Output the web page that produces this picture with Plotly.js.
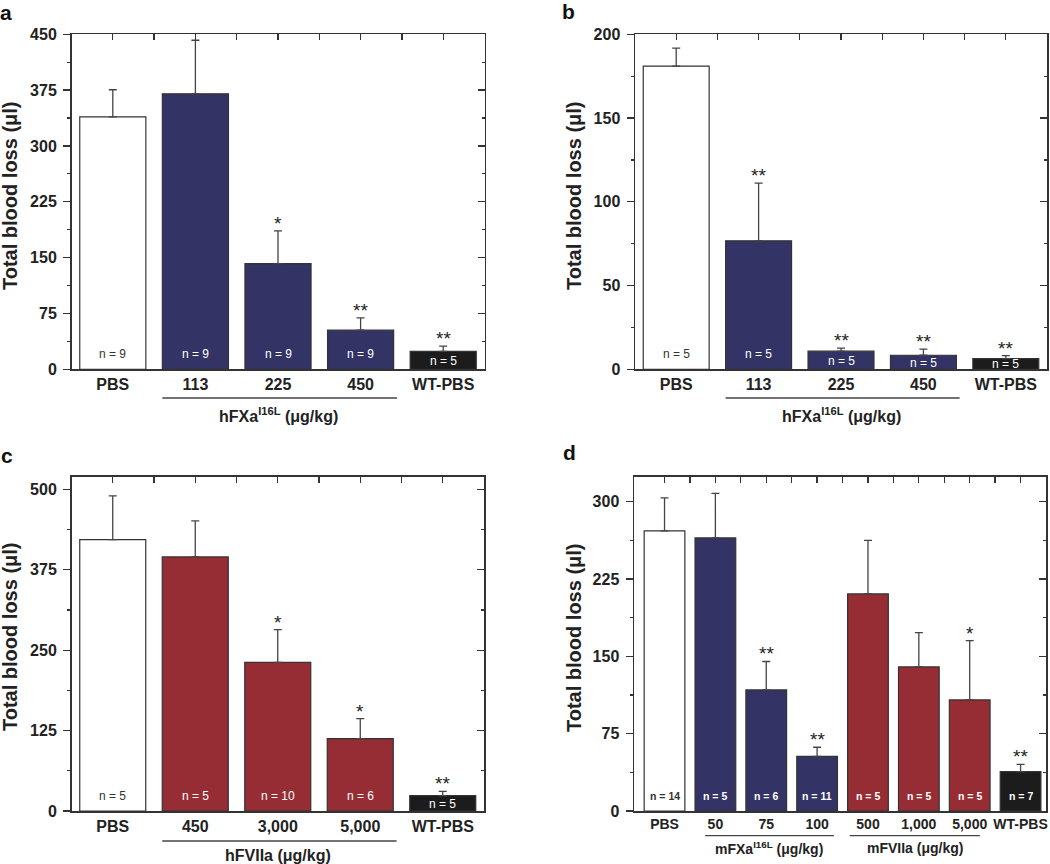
<!DOCTYPE html>
<html>
<head>
<meta charset="utf-8">
<script src="https://cdn.plot.ly/plotly-3.0.1.min.js"></script>
<style>html,body{margin:0;padding:0;background:#fff;}#chart{width:1050px;height:864px;}</style>
</head>
<body>
<div id="chart"></div>
<script>
// ---------- DATA ----------
// Panel a
const aCats = ['PBS', '113', '225', '450', 'WT-PBS'];
const aMean = [339, 370, 142, 52.5, 24];
const aSem  = [36.5, 72, 44, 16.5, 7];
const aN    = [9, 9, 9, 9, 5];
const aSig  = ['', '', '*', '**', '**'];
const aKind = ['pbs', 'fxa', 'fxa', 'fxa', 'wt'];

// Panel b
const bCats = ['PBS', '113', '225', '450', 'WT-PBS'];
const bMean = [181, 76.7, 10.8, 8.4, 6.4];
const bSem  = [10.8, 34.5, 1.9, 3.6, 1.8];
const bN    = [5, 5, 5, 5, 5];
const bSig  = ['', '**', '**', '**', '**'];
const bKind = ['pbs', 'fxa', 'fxa', 'fxa', 'wt'];

// Panel c
const cCats = ['PBS', '450', '3,000', '5,000', 'WT-PBS'];
const cMean = [422, 395, 231, 112.5, 23.8];
const cSem  = [68, 56, 51, 31, 6.8];
const cN    = [5, 5, 10, 6, 5];
const cSig  = ['', '', '*', '*', '**'];
const cKind = ['pbs', 'f7', 'f7', 'f7', 'wt'];

// Panel d
const dCats = ['PBS', '50', '75', '100', '500', '1,000', '5,000', 'WT-PBS'];
const dMean = [271.6, 264.8, 117.4, 53, 210.5, 139.7, 107.7, 38.2];
const dSem  = [32, 43.2, 27.6, 8.8, 52, 33.3, 57.5, 7.1];
const dN    = [14, 5, 6, 11, 5, 5, 5, 7];
const dSig  = ['', '', '**', '**', '', '', '*', '**'];
const dKind = ['pbs', 'fxa', 'fxa', 'fxa', 'f7', 'f7', 'f7', 'wt'];

const yTitle = 'Total blood loss (μl)';
const aGroupLabel = 'hFXa<sup>I16L</sup> (μg/kg)';
const bGroupLabel = 'hFXa<sup>I16L</sup> (μg/kg)';
const cGroupLabel = 'hFVIIa (μg/kg)';
const dGroupLabel1 = 'mFXa<sup>I16L</sup> (μg/kg)';
const dGroupLabel2 = 'mFVIIa (μg/kg)';

// ---------- STYLE ----------
const FONT = 'Liberation Sans, Arial, Helvetica, sans-serif';
const W = 1050, H = 864;
const FILL = {pbs: '#ffffff', fxa: '#333366', f7: '#962d35', wt: '#1c1c1c'};
const NCOL = {pbs: '#333333', fxa: '#ffffff', f7: '#ffffff', wt: '#ffffff'};
const AX = '#333333';

function px2x(p){ return p / W; }
function px2y(p){ return (H - p) / H; }

const panels = [
  {letter:'a', cats:aCats, mean:aMean, sem:aSem, n:aN, sig:aSig, kind:aKind,
   yr:[0,450], dtick:75, xr:[-0.5,4.5], L:71.5, R:484.5, T:34.3, B:369.3,
   tickSize:16, nSize:12, nBold:false, titleX:10, titleY:196, letterXY:[6,13],
   groups:[{text:aGroupLabel, x0:0.6, x1:3.44, xc:2, lineY:398, textY:415, size:16}]},
  {letter:'b', cats:bCats, mean:bMean, sem:bSem, n:bN, sig:bSig, kind:bKind,
   yr:[0,200], dtick:50, xr:[-0.5,4.5], L:635, R:1047, T:34.3, B:369.3,
   tickSize:16, nSize:12, nBold:false, titleX:574, titleY:196, letterXY:[568,12],
   groups:[{text:bGroupLabel, x0:0.6, x1:3.44, xc:2, lineY:398, textY:415, size:16}]},
  {letter:'c', cats:cCats, mean:cMean, sem:cSem, n:cN, sig:cSig, kind:cKind,
   yr:[0,519.7], dtick:125, xr:[-0.5,4.5], L:71.5, R:484, T:476.7, B:811,
   tickSize:16, nSize:12, nBold:false, titleX:10, titleY:637, letterXY:[7,455],
   groups:[{text:cGroupLabel, x0:0.6, x1:3.44, xc:2, lineY:841, textY:855, size:16}]},
  {letter:'d', cats:dCats, mean:dMean, sem:dSem, n:dN, sig:dSig, kind:dKind,
   yr:[0,324.2], dtick:75, xr:[-0.6,7.5], L:634, R:1046, T:476.7, B:811,
   tickSize:14, nSize:10.5, nBold:true, titleX:574, titleY:638, letterXY:[569,452],
   groups:[{text:dGroupLabel1, x0:0.8, x1:3.33, xc:2.05, lineY:835.7, textY:848, size:14},
           {text:dGroupLabel2, x0:3.64, x1:6.2, xc:4.93, lineY:835.7, textY:848, size:14}]}
];

const data = [];
const layout = {
  width: W, height: H, autosize: false,
  margin: {l:0, r:0, t:0, b:0, pad:0},
  paper_bgcolor: '#ffffff', plot_bgcolor: '#ffffff',
  showlegend: false,
  font: {family: FONT, color: '#222'},
  annotations: [], shapes: [], bargap: 0.2
};

panels.forEach((p, k) => {
  const xi = 2*k + 1, xs = 2*k + 2;
  const xP = 'x' + (xi === 1 ? '' : xi), yP = 'y' + (xi === 1 ? '' : xi);
  const xS = 'x' + xs, yS = 'y' + xs;
  const xPk = 'xaxis' + (xi === 1 ? '' : xi), yPk = 'yaxis' + (xi === 1 ? '' : xi);
  const xSk = 'xaxis' + xs, ySk = 'yaxis' + xs;
  const idx = p.cats.map((c, i) => i);
  const domX = [px2x(p.L), px2x(p.R)];
  const domY = [px2y(p.B), px2y(p.T)];
  const plotH = p.B - p.T;

  data.push({
    type: 'bar', x: idx, y: p.mean, xaxis: xP, yaxis: yP, width: 0.8,
    marker: {color: p.kind.map(k2 => FILL[k2]), line: {color: AX, width: 1.2}},
    error_y: {type: 'data', array: p.sem, arrayminus: p.sem.map(() => 0), symmetric: false,
              color: '#444', thickness: 1.3, width: 4},
    hoverinfo: 'skip'
  });
  data.push({type: 'scatter', x: [], y: [], xaxis: xS, yaxis: yS, hoverinfo: 'skip'});

  layout[xPk] = {
    domain: domX, anchor: yP, range: p.xr, showgrid: false, zeroline: false,
    showline: true, linecolor: AX, linewidth: 1.5, ticks: '',
    tickmode: 'array', tickvals: idx, ticktext: p.cats, ticklabelstandoff: 0,
    tickfont: {family: FONT, size: p.tickSize, color: '#222', weight: 'bold'}, fixedrange: true
  };
  layout[yPk] = {
    domain: domY, anchor: xP, range: p.yr, showgrid: false, zeroline: false,
    showline: true, linecolor: AX, linewidth: 1.5,
    ticks: 'outside', ticklen: 7, tickwidth: 1.3, tickcolor: AX,
    tickmode: 'linear', tick0: 0, dtick: p.dtick, ticklabelstandoff: 3,
    minor: {ticks: 'outside', ticklen: 3, tickwidth: 1.2, tickcolor: AX, dtick: p.dtick / 2, tick0: 0},
    tickfont: {family: FONT, size: 16, color: '#222', weight: 'bold'}, fixedrange: true
  };
  const topTicks = [];
  for (let t = 0; t <= 2 * (p.cats.length - 1); t++) topTicks.push(t / 2);
  layout[xSk] = {
    overlaying: xP, anchor: yS, side: 'top', range: p.xr, showgrid: false, zeroline: false,
    showline: true, linecolor: AX, linewidth: 1.5, ticks: 'inside', ticklen: 6, tickwidth: 1.3,
    tickcolor: AX, tickmode: 'array', tickvals: topTicks, showticklabels: false, fixedrange: true
  };
  layout[ySk] = {
    overlaying: yP, anchor: xS, side: 'right', range: p.yr, showgrid: false, zeroline: false,
    showline: true, linecolor: AX, linewidth: 1.5, ticks: 'inside', ticklen: 7, tickwidth: 1.3,
    tickcolor: AX, tickmode: 'linear', tick0: 0, dtick: p.dtick, showticklabels: false,
    minor: {ticks: 'inside', ticklen: 3, tickwidth: 1.2, tickcolor: AX, dtick: p.dtick / 2, tick0: 0},
    fixedrange: true
  };

  // n labels inside bars
  p.mean.forEach((v, i) => {
    const hpx = v / p.yr[1] * plotH;
    const low = hpx < 30;
    layout.annotations.push({
      xref: xP, yref: yP, x: i, y: low ? v / 2 : 0, yshift: low ? -0.5 : 15.5,
      text: 'n = ' + p.n[i], showarrow: false, xanchor: 'center', yanchor: 'middle',
      font: {family: FONT, size: p.nSize, color: NCOL[p.kind[i]], weight: p.nBold ? 'bold' : 'normal'}
    });
    if (p.sig[i]) {
      layout.annotations.push({
        xref: xP, yref: yP, x: i, y: v + p.sem[i], yshift: -5,
        text: p.sig[i], showarrow: false, xanchor: 'center', yanchor: 'bottom',
        font: {family: FONT, size: 19, color: '#222'}
      });
    }
  });

  // y-axis title
  layout.annotations.push({
    xref: 'paper', yref: 'paper', x: px2x(p.titleX), y: px2y(p.titleY),
    text: yTitle, textangle: -90, showarrow: false, xanchor: 'center', yanchor: 'middle',
    font: {family: FONT, size: 20, color: '#222', weight: 'bold'}
  });
  // panel letter
  layout.annotations.push({
    xref: 'paper', yref: 'paper', x: px2x(p.letterXY[0]), y: px2y(p.letterXY[1]),
    text: p.letter, showarrow: false, xanchor: 'center', yanchor: 'middle',
    font: {family: FONT, size: 21, color: '#111', weight: 'bold'}
  });
  // group labels and underline
  p.groups.forEach(g => {
    layout.shapes.push({type: 'line', xref: xP, yref: 'paper', x0: g.x0, x1: g.x1,
      y0: px2y(g.lineY), y1: px2y(g.lineY), line: {color: '#444', width: 1.3}});
    layout.annotations.push({
      xref: xP, yref: 'paper', x: g.xc, y: px2y(g.textY), text: g.text, showarrow: false,
      xanchor: 'center', yanchor: 'middle',
      font: {family: FONT, size: g.size, color: '#222', weight: 'bold'}
    });
  });
});

Plotly.newPlot('chart', data, layout, {staticPlot: true, displayModeBar: false});
</script>
</body>
</html>
